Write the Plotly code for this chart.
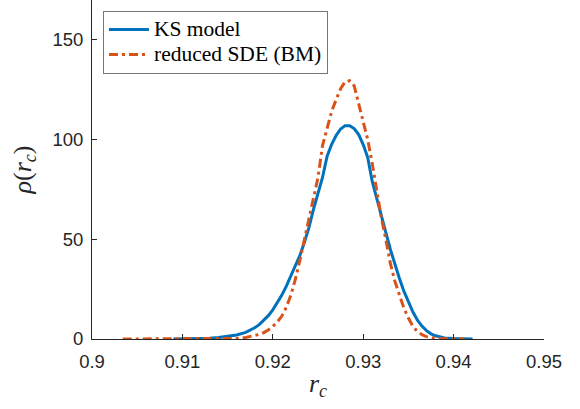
import plotly.graph_objects as go

# KS model (blue solid)
ks_x = [0.9090, 0.9100, 0.9110, 0.9120, 0.9130, 0.9140, 0.9150, 0.9160, 0.9170, 0.9175,
        0.9180, 0.9185, 0.9190, 0.9195, 0.9200, 0.9205, 0.9210, 0.9215, 0.9220, 0.9225,
        0.9230, 0.9235, 0.9240, 0.9245, 0.9250, 0.9255, 0.9260, 0.9265, 0.9270, 0.9275,
        0.9280, 0.9285, 0.9290, 0.9295, 0.9300, 0.9305, 0.9310, 0.9315, 0.9320, 0.9325,
        0.9330, 0.9335, 0.9340, 0.9345, 0.9350, 0.9355, 0.9360, 0.9365, 0.9370, 0.9375,
        0.9380, 0.9385, 0.9390, 0.9400, 0.9410, 0.9421]
ks_y = [0.0, 0.05, 0.1, 0.2, 0.4, 0.7, 1.2, 2.0, 3.3, 4.3,
        5.6, 7.2, 9.2, 11.7, 14.6, 18.0, 22.0, 26.5, 31.5, 37.0,
        42.0, 48.5, 56.0, 65.0, 73.5, 81.0, 91.5, 97.5, 102.0, 105.3,
        107.0, 107.0, 105.5, 102.5, 97.5, 91.0, 79.0, 70.0, 61.0, 53.5,
        45.0, 37.5, 30.5, 24.0, 18.5, 13.5, 9.5, 6.5, 4.2, 2.6,
        1.6, 0.9, 0.5, 0.2, 0.05, 0.0]

# reduced SDE (BM) (orange dash-dot)
sde_x = [0.9034, 0.9060, 0.9090, 0.9120, 0.9150, 0.9160, 0.9170, 0.9175, 0.9180, 0.9185,
         0.9190, 0.9195, 0.9200, 0.9205, 0.9210, 0.9215, 0.9220, 0.9225, 0.9230, 0.9235,
         0.9240, 0.9245, 0.9250, 0.9255, 0.9260, 0.9265, 0.9270, 0.9275, 0.9280, 0.9285,
         0.9290, 0.9295, 0.9300, 0.9305, 0.9310, 0.9315, 0.9320, 0.9325, 0.9330, 0.9335,
         0.9340, 0.9345, 0.9350, 0.9355, 0.9360, 0.9365, 0.9370, 0.9375, 0.9380, 0.9390,
         0.9400, 0.9412]
sde_y = [0.0, 0.0, 0.0, 0.0, 0.1, 0.3, 0.8, 1.3, 1.8, 2.3,
         3.2, 4.5, 6.3, 8.5, 11.5, 16.0, 22.0, 30.0, 39.5, 50.0,
         59.0, 70.0, 81.0, 97.0, 106.0, 114.0, 120.0, 125.5, 129.0, 129.5,
         127.0, 118.0, 110.0, 100.0, 88.0, 74.5, 61.0, 50.0, 38.0, 29.0,
         22.0, 15.5, 10.5, 6.3, 3.8, 2.2, 1.2, 0.6, 0.3, 0.1,
         0.0, 0.0]

series_names = ["KS model", "reduced SDE (BM)"]
x_ticks = [0.9, 0.91, 0.92, 0.93, 0.94, 0.95]
x_tick_labels = ["0.9", "0.91", "0.92", "0.93", "0.94", "0.95"]
y_ticks = [0, 50, 100, 150]
y_tick_labels = ["0", "50", "100", "150"]


def legend_label(s):
    return '<span style="font-size:21.5px">' + s + '</span>'


fig = go.Figure()
fig.add_trace(go.Scatter(x=ks_x, y=ks_y, mode="lines", name=legend_label(series_names[0]),
                         line=dict(color="#0072BD", width=3)))
fig.add_trace(go.Scatter(x=sde_x, y=sde_y, mode="lines", name=legend_label(series_names[1]),
                         line=dict(color="#D95319", width=3, dash="9px,4px,3px,4px")))

axis_common = dict(
    showline=True, linecolor="#262626", linewidth=1,
    ticks="inside", ticklen=5, tickcolor="#262626",
    showgrid=False, zeroline=False,
    tickfont=dict(family="Liberation Sans, Arial", size=18.5, color="#262626"),
)

fig.update_layout(
    width=580, height=409,
    margin=dict(l=92, r=36, t=0, b=70),
    paper_bgcolor="white", plot_bgcolor="white",
    xaxis=dict(range=[0.9, 0.95], tickvals=x_ticks, ticktext=x_tick_labels,
               ticklabelstandoff=6,
               title=dict(text="<i>r</i><sub><i>c</i></sub>",
                          font=dict(family="Liberation Serif, Times New Roman", size=26, color="#262626"),
                          standoff=2),
               **axis_common),
    yaxis=dict(range=[0, 170], tickvals=y_ticks, ticktext=y_tick_labels,
               ticklabelstandoff=4,
               title=dict(text="<i>ρ</i>(<i>r</i><sub><i>c</i></sub>)",
                          font=dict(family="Liberation Serif, Times New Roman", size=26, color="#262626"),
                          standoff=13),
               **axis_common),
    legend=dict(x=0.0243, y=0.968, xanchor="left", yanchor="top",
                bgcolor="white", bordercolor="#777777", borderwidth=1,
                font=dict(family="Liberation Serif, Times New Roman", size=17, color="#000000"),
                itemwidth=40, tracegroupgap=0),
    showlegend=True,
)

fig.write_html("out.html")
